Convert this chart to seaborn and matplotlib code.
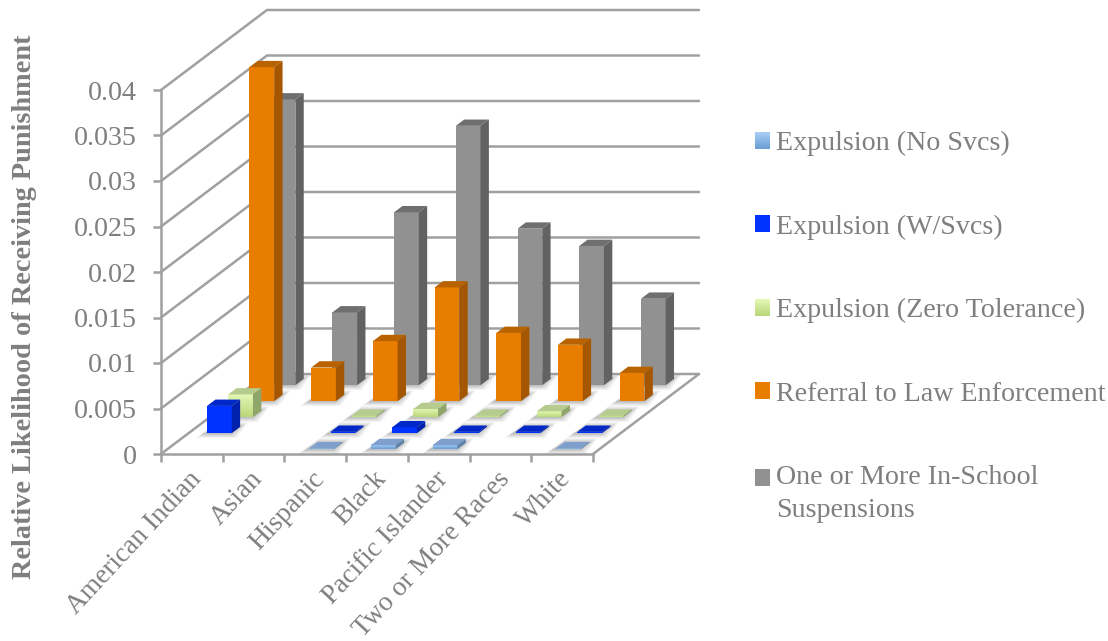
import numpy as np
import pandas as pd
import matplotlib
matplotlib.use("Agg")
import matplotlib.pyplot as plt
import seaborn as sns
from matplotlib.colors import LinearSegmentedColormap
from matplotlib.legend_handler import HandlerBase
from matplotlib.patches import Polygon, Rectangle
from matplotlib.transforms import Affine2D

# Disciplinary outcome rates by student group
categories = ["American Indian", "Asian", "Hispanic", "Black",
              "Pacific Islander", "Two or More Races", "White"]
expulsion_no_svcs = [0, 0, 0.0001, 0.00045, 0.00045, 0, 0.0001]
expulsion_w_svcs = [0.0030, 0, 0.00015, 0.00065, 0.00015, 0.00015, 0.00015]
expulsion_zero_tol = [0.0025, 0, 0.00015, 0.0009, 0.00015, 0.00065, 0.00015]
law_referral = [0.0367, 0.0037, 0.0066, 0.0125, 0.0075, 0.0062, 0.0031]
in_school_susp = [0.0314, 0.0080, 0.0190, 0.0285, 0.0172, 0.0153, 0.0095]

series_names = ["Expulsion (No Svcs)", "Expulsion (W/Svcs)",
                "Expulsion (Zero Tolerance)", "Referral to Law Enforcement",
                "One or More In-School\nSuspensions"]
series_values = [expulsion_no_svcs, expulsion_w_svcs, expulsion_zero_tol,
                 law_referral, in_school_susp]
y_ticks = [0, 0.005, 0.01, 0.015, 0.02, 0.025, 0.03, 0.035, 0.04]
y_tick_labels = ["0", "0.005", "0.01", "0.015", "0.02", "0.025", "0.03", "0.035", "0.04"]

# Face colours: front gradient (top stop, bottom stop), top face, side face
face_colors = [
    ("#A9CDF5", "#6CA0D5", "#7FA0CC", "#5F83AB"),
    ("#0033FF", "#0033FF", "#0027C8", "#0021AB"),
    ("#E5F7B5", "#B9D87A", "#B5CC8E", "#8FA66B"),
    ("#E87D00", "#E87D00", "#B86300", "#A45600"),
    ("#919191", "#919191", "#6F6F6F", "#626262"),
]

TEXT = "#7F7F7F"
GRID = "#A0A0A0"
LW = 1.8
FS = 20.2

sns.set_theme(style="white")
plt.rcParams["font.family"] = ["Liberation Serif", "DejaVu Serif"]

W, H = 1108, 641
fig = plt.figure(figsize=(W / 100, H / 100), dpi=100, facecolor="white")
ax = fig.add_axes([161 / W, 1 - 454 / H, 432 / W, 364 / H], facecolor="none")

# Oblique projection: each unit of depth moves a point right and up in data units
KX = 21.2 / (432 / 7)
KY = 16 / (364 / 0.04)
N_DEPTH = len(series_names)
BAR_W = 0.40
D0, D1 = 0.30, 0.695
positions = np.arange(len(categories)) + 0.5


def proj(x, v, d):
    return (x + KX * d, v + KY * d)


def depth_shift(d):
    return Affine2D().translate(KX * d, KY * d) + ax.transData


# Walls and floor outline
line_kw = dict(color=GRID, lw=LW, solid_capstyle="round", clip_on=False, zorder=1)
for v in y_ticks:
    p0, p1, p2 = proj(0, v, 0), proj(0, v, N_DEPTH), proj(7, v, N_DEPTH)
    ax.plot([p0[0], p1[0], p2[0]], [p0[1], p1[1], p2[1]], **line_kw)
pr0, pr1 = proj(7, 0, 0), proj(7, 0, N_DEPTH)
ax.plot([pr0[0], pr1[0]], [pr0[1], pr1[1]], **line_kw)

# Soft contact shadows on the floor
px_x, px_y = 7 / 432, 0.04 / 364
for s, values in enumerate(series_values):
    for x, val in zip(positions, values):
        if val == 0:
            continue
        x0, x1 = x - BAR_W / 2, x + BAR_W / 2
        for grow, alpha in [(8, 0.07), (6, 0.10), (4, 0.13), (2, 0.16)]:
            ex, ey = grow * px_x, grow * 0.6 * px_y
            corners = [proj(x0 - 3 * px_x - ex, 0, s + D0), proj(x1 - 3 * px_x + ex, 0, s + D0),
                       proj(x1 + ex, 0, s + D1), proj(x0 + ex * 0.2, 0, s + D1)]
            corners = [(a, b + dy) for (a, b), dy in zip(corners, [-ey, -ey, ey, ey])]
            ax.add_patch(Polygon(corners, closed=True, fc="#606060", ec="none",
                                 alpha=alpha, clip_on=False, zorder=2))

# Bars, back row first so nearer rows overlap farther ones
for s in reversed(range(N_DEPTH)):
    grad_top, grad_bot, top_c, side_c = face_colors[s]
    frame = pd.DataFrame({"position": positions, "value": series_values[s]})
    before = len(ax.patches)
    sns.barplot(data=frame, x="position", y="value", native_scale=True, orient="x",
                width=BAR_W, color=grad_bot, saturation=1, errorbar=None,
                linewidth=0, ax=ax)
    z = 10 + (N_DEPTH - s) * 3
    d0, d1 = s + D0, s + D1
    bars = [p for p in ax.patches[before:] if isinstance(p, Rectangle)]
    for bar in bars:
        h = bar.get_height()
        x0, x1 = bar.get_x(), bar.get_x() + bar.get_width()
        bar.set_transform(depth_shift(d0))
        bar.set_zorder(z)
        bar.set_clip_on(False)
        if h <= 0:
            bar.set_visible(False)
            continue
        if grad_top != grad_bot:
            cmap = LinearSegmentedColormap.from_list("front", [grad_bot, grad_top])
            ax.imshow(np.linspace(0, 1, 32).reshape(-1, 1), extent=(x0, x1, 0, h),
                      origin="lower", cmap=cmap, aspect="auto", interpolation="bilinear",
                      transform=depth_shift(d0), clip_on=False, zorder=z + 0.1)
        top = [proj(x0, h, d0), proj(x1, h, d0), proj(x1, h, d1), proj(x0, h, d1)]
        side = [proj(x1, 0, d0), proj(x1, 0, d1), proj(x1, h, d1), proj(x1, h, d0)]
        ax.add_patch(Polygon(top, closed=True, fc=top_c, ec="none", clip_on=False, zorder=z + 0.2))
        ax.add_patch(Polygon(side, closed=True, fc=side_c, ec="none", clip_on=False, zorder=z + 0.2))

# Front plane axes
ax.set_xlim(0, 7)
ax.set_ylim(0, 0.04)
ax.set_xlabel("")
ax.set_ylabel("")
sns.despine(ax=ax, top=True, right=True)
for side_name in ("left", "bottom"):
    ax.spines[side_name].set_color(GRID)
    ax.spines[side_name].set_linewidth(LW)
    ax.spines[side_name].set_zorder(1)

ax.set_yticks(y_ticks)
ax.set_yticklabels(y_tick_labels, color=TEXT, fontsize=FS)
ax.tick_params(axis="y", left=True, length=5.8, width=LW, color=GRID, pad=11.5)
ax.set_xticks(np.arange(8))
ax.set_xticklabels([])
ax.tick_params(axis="x", which="major", bottom=True, length=5.8, width=LW, color=GRID)
ax.set_xticks(positions, minor=True)
ax.set_xticklabels(categories, minor=True, rotation=47, ha="right", va="top",
                   rotation_mode="anchor", color=TEXT, fontsize=19.7)
ax.tick_params(axis="x", which="minor", bottom=False, length=0, pad=9)
for lab in ax.get_xticklabels(minor=True):
    lab.set_transform(lab.get_transform() + Affine2D().translate(-4, 0))

fig.text(25 / W, 1 - 307 / H, "Relative Likelihood of Receiving Punishment",
         rotation=90, ha="center", va="center", color=TEXT, fontsize=20.3, fontweight="bold")


# Legend with graded colour keys
class Swatch:
    def __init__(self, top, bottom, lift=0.0):
        self.top, self.bottom, self.lift = top, bottom, lift


class SwatchHandler(HandlerBase):
    def create_artists(self, legend, orig, xdescent, ydescent, width, height, fontsize, trans):
        cmap = LinearSegmentedColormap.from_list("key", [orig.bottom, orig.top])
        n = 12
        out = []
        for i in range(n):
            out.append(Rectangle((-xdescent, -ydescent + orig.lift + height * i / n),
                                 width, height / n + 0.1, fc=cmap(i / (n - 1)), ec="none",
                                 transform=trans))
        return out


handles = [Swatch(c[0], c[1]) for c in face_colors]
handles[-1].lift = 11.5
leg = fig.legend(handles, series_names, handler_map={Swatch: SwatchHandler()},
                 loc="upper left", bbox_to_anchor=(755 / W, 1 - 131 / H), bbox_transform=fig.transFigure,
                 frameon=False, fontsize=FS, labelcolor=TEXT, borderpad=0, borderaxespad=0,
                 handlelength=0.54, handleheight=0.54, handletextpad=0.21, labelspacing=2.08)
leg.get_texts()[-1].set_linespacing(1.45)

fig.savefig("out.png", dpi=100)
